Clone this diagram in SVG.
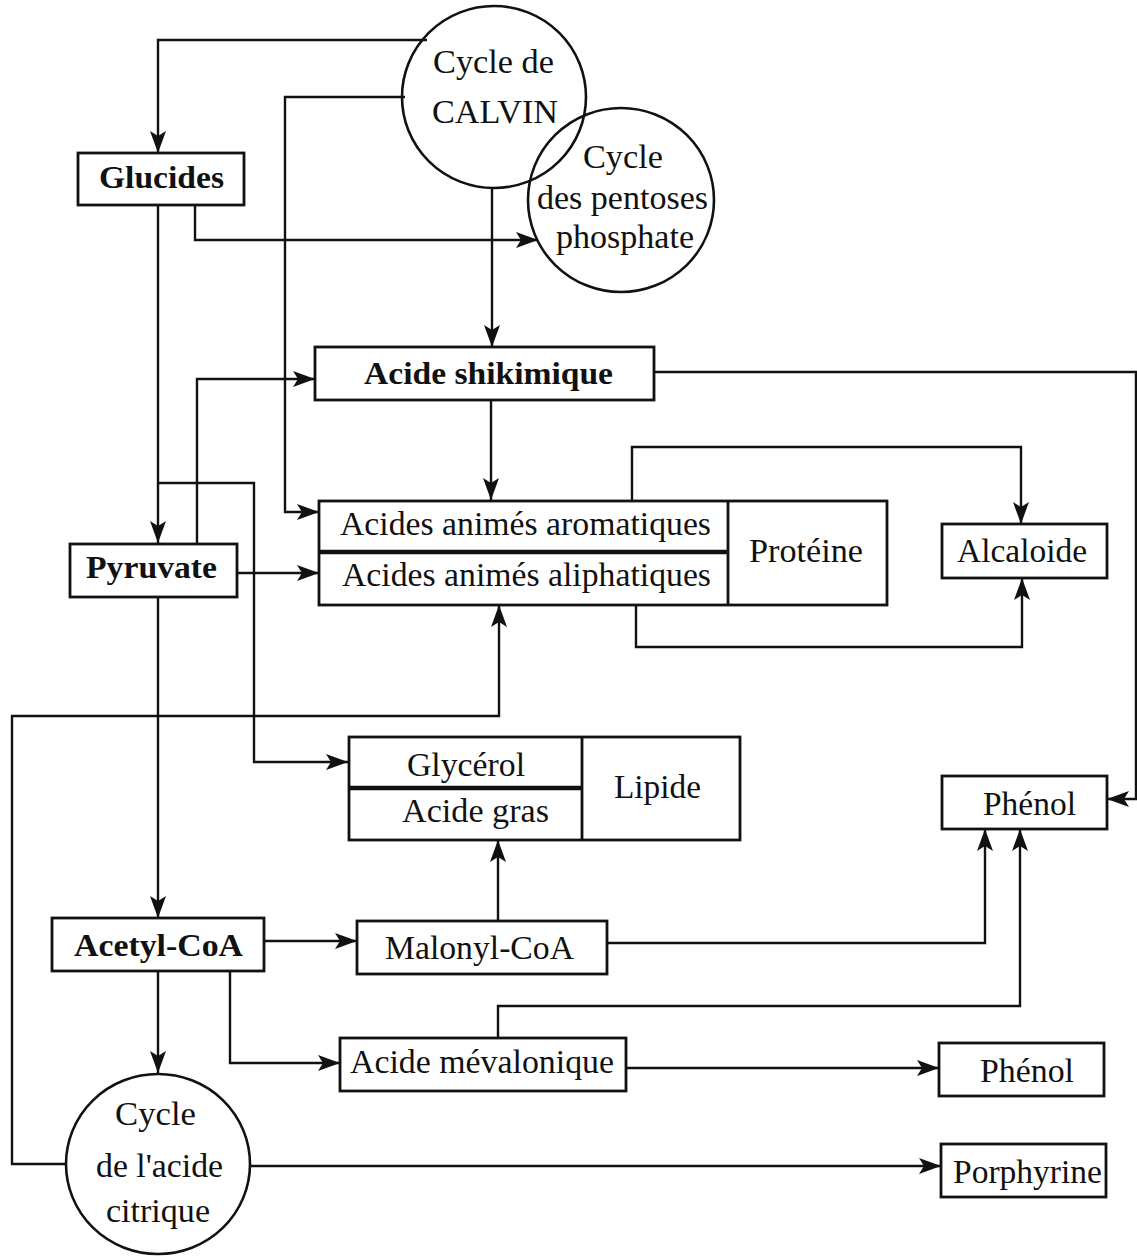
<svg xmlns="http://www.w3.org/2000/svg" width="1137" height="1256" viewBox="0 0 1137 1256">
<defs>
<style>
.box{fill:none;stroke:#111;stroke-width:2.8}
.cyc{fill:none;stroke:#111;stroke-width:2.6}
.div{stroke:#111;stroke-width:4.5;fill:none}
.ln{fill:none;stroke:#111;stroke-width:2.4}
.ar{marker-end:url(#ah)}
text{font-family:"Liberation Serif","Times New Roman",serif;font-size:33px;fill:#111}
.b{font-weight:bold;font-size:32px}
</style>
<marker id="ah" markerUnits="userSpaceOnUse" markerWidth="24" markerHeight="16" refX="22" refY="8" orient="auto">
<path d="M0,0 L22,8 L0,16 L5,8 z" fill="#111"/>
</marker>
</defs>
<rect width="1137" height="1256" fill="#fff"/>

<g id="connectors">
<path class="ln ar" d="M427,40 H158 V153"/>
<path class="ln ar" d="M405,97 H285 V512 H319"/>
<path class="ln ar" d="M492,188 V347"/>
<path class="ln ar" d="M158,205 V543"/>
<path class="ln ar" d="M195,205 V240 H538"/>
<path class="ln ar" d="M197,544 V379 H315"/>
<path class="ln ar" d="M158,483 H254 V762 H348"/>
<path class="ln ar" d="M237,573 H319"/>
<path class="ln ar" d="M491,400 V500"/>
<path class="ln ar" d="M654,372 H1136 V799 H1107"/>
<path class="ln ar" d="M632,501 V447 H1021 V524"/>
<path class="ln ar" d="M636,605 V647 H1022 V578"/>
<path class="ln ar" d="M66,1164 H12 V716 H499 V605"/>
<path class="ln ar" d="M158,597 V918"/>
<path class="ln ar" d="M264,941 H357"/>
<path class="ln ar" d="M158,971 V1073"/>
<path class="ln ar" d="M230,971 V1063 H340"/>
<path class="ln ar" d="M498,921 V840"/>
<path class="ln ar" d="M607,943 H985 V829"/>
<path class="ln ar" d="M498,1038 V1006 H1020 V829"/>
<path class="ln ar" d="M626,1068 H939"/>
<path class="ln ar" d="M250,1166 H941"/>
</g>

<g id="calvin">
<ellipse class="cyc" cx="494" cy="97" rx="92" ry="91"/>
<text x="433" y="73" textLength="121" lengthAdjust="spacingAndGlyphs">Cycle de</text>
<text x="432" y="123" textLength="126" lengthAdjust="spacingAndGlyphs">CALVIN</text>
</g>
<g id="pentoses">
<ellipse class="cyc" cx="621" cy="200" rx="93" ry="92"/>
<text x="583" y="168" textLength="80" lengthAdjust="spacingAndGlyphs">Cycle</text>
<text x="537" y="209" textLength="171" lengthAdjust="spacingAndGlyphs">des pentoses</text>
<text x="556" y="248" textLength="138" lengthAdjust="spacingAndGlyphs">phosphate</text>
</g>
<g id="glucides">
<rect class="box" x="78" y="153" width="166" height="52"/>
<text class="b" x="99" y="188" textLength="125" lengthAdjust="spacingAndGlyphs">Glucides</text>
</g>
<g id="shikimique">
<rect class="box" x="315" y="347" width="339" height="53"/>
<text class="b" x="364" y="384" textLength="249" lengthAdjust="spacingAndGlyphs">Acide shikimique</text>
</g>
<g id="acides-proteine">
<rect class="box" x="319" y="501" width="568" height="104"/>
<line class="box" x1="728" y1="501" x2="728" y2="605"/>
<line class="div" x1="319" y1="552" x2="728" y2="552"/>
<text x="340" y="535" textLength="371" lengthAdjust="spacingAndGlyphs">Acides animés aromatiques</text>
<text x="342" y="586" textLength="369" lengthAdjust="spacingAndGlyphs">Acides animés aliphatiques</text>
<text x="749" y="562" textLength="114" lengthAdjust="spacingAndGlyphs">Protéine</text>
</g>
<g id="alcaloide">
<rect class="box" x="942" y="524" width="165" height="54"/>
<text x="957" y="562" textLength="130" lengthAdjust="spacingAndGlyphs">Alcaloide</text>
</g>
<g id="pyruvate">
<rect class="box" x="70" y="544" width="167" height="53"/>
<text class="b" x="86" y="578" textLength="131" lengthAdjust="spacingAndGlyphs">Pyruvate</text>
</g>
<g id="lipide">
<rect class="box" x="349" y="737" width="391" height="103"/>
<line class="box" x1="582" y1="737" x2="582" y2="840"/>
<line class="div" x1="349" y1="788" x2="582" y2="788"/>
<text x="407" y="776" textLength="118" lengthAdjust="spacingAndGlyphs">Glycérol</text>
<text x="402" y="822" textLength="147" lengthAdjust="spacingAndGlyphs">Acide gras</text>
<text x="614" y="798" textLength="87" lengthAdjust="spacingAndGlyphs">Lipide</text>
</g>
<g id="phenol1">
<rect class="box" x="942" y="776" width="165" height="53"/>
<text x="983" y="815" textLength="93" lengthAdjust="spacingAndGlyphs">Phénol</text>
</g>
<g id="acetyl">
<rect class="box" x="52" y="918" width="212" height="53"/>
<text class="b" x="74" y="956" textLength="169" lengthAdjust="spacingAndGlyphs">Acetyl-CoA</text>
</g>
<g id="malonyl">
<rect class="box" x="357" y="921" width="250" height="53"/>
<text x="385" y="959" textLength="189" lengthAdjust="spacingAndGlyphs">Malonyl-CoA</text>
</g>
<g id="mevalonique">
<rect class="box" x="340" y="1038" width="286" height="53"/>
<text x="350" y="1073" textLength="264" lengthAdjust="spacingAndGlyphs">Acide mévalonique</text>
</g>
<g id="phenol2">
<rect class="box" x="939" y="1043" width="165" height="53"/>
<text x="980" y="1082" textLength="94" lengthAdjust="spacingAndGlyphs">Phénol</text>
</g>
<g id="porphyrine">
<rect class="box" x="941" y="1144" width="165" height="53"/>
<text x="953" y="1183" textLength="149" lengthAdjust="spacingAndGlyphs">Porphyrine</text>
</g>
<g id="citrique">
<ellipse class="cyc" cx="158" cy="1164" rx="92" ry="90"/>
<text x="115" y="1125" textLength="81" lengthAdjust="spacingAndGlyphs">Cycle</text>
<text x="96" y="1177" textLength="127" lengthAdjust="spacingAndGlyphs">de l'acide</text>
<text x="106" y="1222" textLength="104" lengthAdjust="spacingAndGlyphs">citrique</text>
</g>
</svg>
